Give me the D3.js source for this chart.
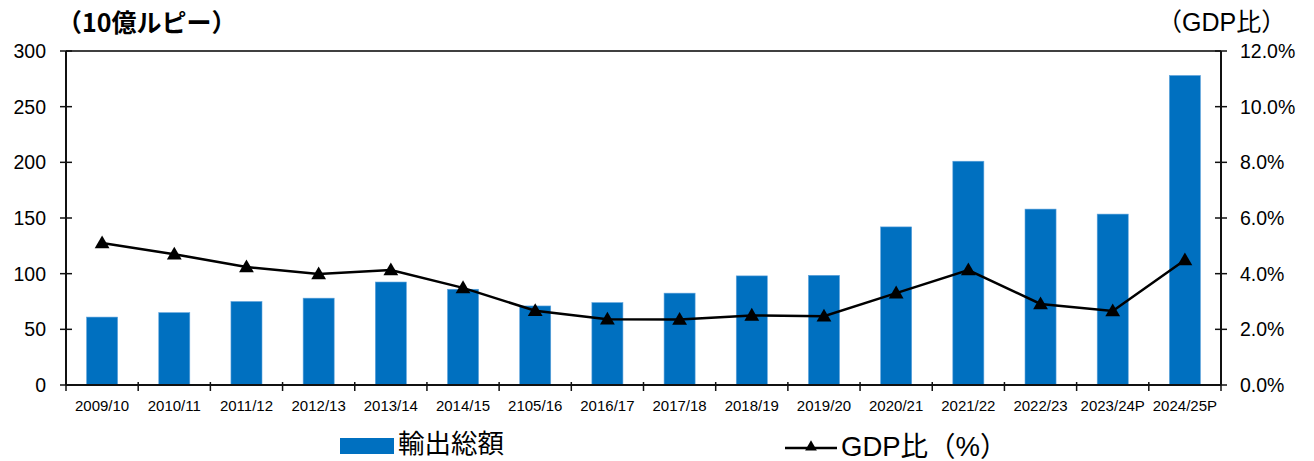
<!DOCTYPE html>
<html>
<head>
<meta charset="utf-8">
<script src="https://cdn.jsdelivr.net/npm/d3@7"></script>
<style>
  body { margin: 0; background: #fff; }
  text { font-family: "Liberation Sans", Arial, "Noto Sans CJK JP", sans-serif; fill: #000; }
</style>
</head>
<body>
<div id="chart"></div>
<script>
// Data
var years = ["2009/10", "2010/11", "2011/12", "2012/13", "2013/14", "2014/15", "2105/16", "2016/17",
             "2017/18", "2018/19", "2019/20", "2020/21", "2021/22", "2022/23", "2023/24P", "2024/25P"];
var exportsTotal = [61, 65, 75, 78, 92.5, 86, 71, 74, 82.5, 98, 98.5, 142, 201, 158, 153.5, 278]; // 10億ルピー
var gdpRatio = [5.1, 4.7, 4.24, 3.99, 4.13, 3.49, 2.67, 2.36, 2.35, 2.5, 2.47, 3.3, 4.13, 2.91, 2.66, 4.49]; // %
var leftTicks = [0, 50, 100, 150, 200, 250, 300];
var rightTicks = [0, 2, 4, 6, 8, 10, 12];

var W = 1314, H = 461;
var margin = { top: 51, right: 93, bottom: 76, left: 66 }, // plot area edges
    width = W - margin.left - margin.right,
    height = H - margin.top - margin.bottom;

var svg = d3.select("#chart")
  .append("svg")
    .attr("width", W)
    .attr("height", H);

var g = svg.append("g")
    .attr("transform", "translate(" + margin.left + "," + margin.top + ")");

// Scales
var x = d3.scaleBand().domain(years).range([0, width]).padding(0);
var yL = d3.scaleLinear().domain([0, 300]).range([height, 0]);
var yR = d3.scaleLinear().domain([0, 12]).range([height, 0]);

var barW = x.bandwidth() * 0.43;

// Bars
g.selectAll("rect.bar")
  .data(exportsTotal)
  .enter().append("rect")
    .attr("class", "bar")
    .attr("x", (d, i) => x(years[i]) + (x.bandwidth() - barW) / 2)
    .attr("y", d => yL(d))
    .attr("width", barW)
    .attr("height", d => yL(0) - yL(d))
    .attr("fill", "#0070C0")
    .attr("stroke", "#5fa3dc")
    .attr("stroke-width", 0.6);

// Frame: top line, left/right/bottom axes
g.append("line").attr("x1", 0).attr("x2", width).attr("y1", 0).attr("y2", 0)
  .attr("stroke", "#404040").attr("stroke-width", 2);
g.append("line").attr("x1", 0).attr("x2", 0).attr("y1", 0).attr("y2", height)
  .attr("stroke", "#111").attr("stroke-width", 2);
g.append("line").attr("x1", width).attr("x2", width).attr("y1", 0).attr("y2", height)
  .attr("stroke", "#111").attr("stroke-width", 2);
g.append("line").attr("x1", 0).attr("x2", width).attr("y1", height).attr("y2", height)
  .attr("stroke", "#111").attr("stroke-width", 2);

// Left ticks and labels
g.selectAll("line.lt").data(leftTicks).enter().append("line")
  .attr("x1", -6).attr("x2", 6).attr("y1", d => yL(d)).attr("y2", d => yL(d))
  .attr("stroke", "#111").attr("stroke-width", 1.5);
g.selectAll("text.lt").data(leftTicks).enter().append("text")
  .attr("x", -20).attr("y", d => yL(d)).attr("dy", "0.36em")
  .attr("text-anchor", "end").style("font-size", "19.5px")
  .text(d => d);

// Right ticks and labels
g.selectAll("line.rt").data(rightTicks).enter().append("line")
  .attr("x1", width - 6).attr("x2", width + 6).attr("y1", d => yR(d)).attr("y2", d => yR(d))
  .attr("stroke", "#111").attr("stroke-width", 1.5);
g.selectAll("text.rt").data(rightTicks).enter().append("text")
  .attr("x", width + 19).attr("y", d => yR(d)).attr("dy", "0.36em")
  .attr("text-anchor", "start").style("font-size", "19.5px")
  .text(d => d.toFixed(1) + "%");

// X ticks at category boundaries
var bounds = years.map(d => x(d)).concat([width]);
g.selectAll("line.xt").data(bounds).enter().append("line")
  .attr("x1", d => d).attr("x2", d => d).attr("y1", height - 3).attr("y2", height + 6)
  .attr("stroke", "#111").attr("stroke-width", 1.5);
g.selectAll("text.xl").data(years).enter().append("text")
  .attr("x", d => x(d) + x.bandwidth() / 2).attr("y", height + 25.5)
  .attr("text-anchor", "middle").style("font-size", "15px")
  .text(d => d);

// GDP ratio line and markers
var line = d3.line()
  .x((d, i) => x(years[i]) + x.bandwidth() / 2)
  .y(d => yR(d));
g.append("path").datum(gdpRatio)
  .attr("d", line).attr("fill", "none")
  .attr("stroke", "#000").attr("stroke-width", 2.5);
var tri = d3.symbol().type(d3.symbolTriangle).size(95);
g.selectAll("path.mk").data(gdpRatio).enter().append("path")
  .attr("transform", (d, i) => "translate(" + (x(years[i]) + x.bandwidth() / 2) + "," + (yR(d) + 1) + ")")
  .attr("d", tri).attr("fill", "#000");

// Axis titles
svg.append("text").attr("x", 57).attr("y", 32)
  .style("font-size", "25px").style("font-weight", "bold")
  .style("font-family", "'Noto Sans CJK JP', sans-serif")
  .text("（10億ルピー）");
svg.append("text").attr("x", 1157).attr("y", 31).attr("text-anchor", "start")
  .style("font-size", "25px")
  .style("font-family", "'Liberation Sans', 'Noto Sans CJK JP', sans-serif")
  .text("（GDP比）");

// Legend
svg.append("rect").attr("x", 340).attr("y", 438).attr("width", 54).attr("height", 16)
  .attr("fill", "#0070C0");
svg.append("text").attr("x", 398).attr("y", 453)
  .style("font-size", "26.5px")
  .style("font-family", "'Noto Sans CJK JP', sans-serif")
  .text("輸出総額");
svg.append("line").attr("x1", 785).attr("x2", 837).attr("y1", 448).attr("y2", 448)
  .attr("stroke", "#000").attr("stroke-width", 2.5);
svg.append("path").attr("transform", "translate(811,447)")
  .attr("d", d3.symbol().type(d3.symbolTriangle).size(60)).attr("fill", "#000");
svg.append("text").attr("x", 841).attr("y", 456)
  .style("font-size", "27.5px")
  .text("GDP比（%）");
</script>
</body>
</html>
